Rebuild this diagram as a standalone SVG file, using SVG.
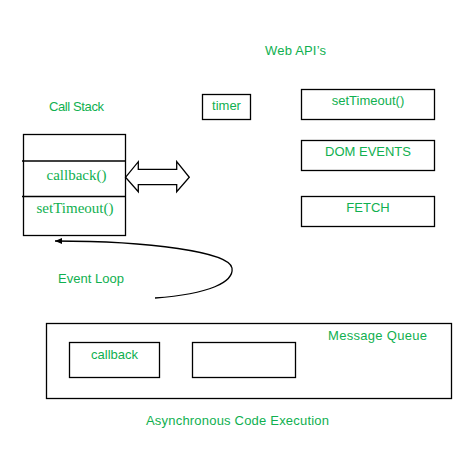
<svg xmlns="http://www.w3.org/2000/svg" width="471" height="449" viewBox="0 0 471 449">
<style>
.box{fill:#fff;stroke:#000;stroke-width:1.3}
.ln{fill:none;stroke:#000;stroke-width:1.3}
.t{font-family:"Liberation Sans",Arial,sans-serif;font-size:13px;fill:#10b050}
.s{font-family:"Liberation Serif","Times New Roman",serif;font-size:15px;fill:#10b050}
.m{text-anchor:middle}
</style>
<defs>
<marker id="ah" markerWidth="8" markerHeight="8" refX="7" refY="4" orient="auto" markerUnits="userSpaceOnUse">
<path d="M0,1 L7,4 L0,7 z" fill="#000"/>
</marker>
</defs>
<rect width="471" height="449" fill="#fff"/>
<text class="t" x="265" y="55" textLength="61">Web API’s</text>
<g id="callstack">
<text class="t" x="49" y="111" textLength="55">Call Stack</text>
<rect class="box" x="23.5" y="134.5" width="102" height="101"/>
<line class="ln" x1="22" y1="161" x2="125.5" y2="161"/>
<line class="ln" x1="22" y1="196.5" x2="125.5" y2="196.5"/>
<text class="s m" x="76.5" y="180">callback()</text>
<text class="s m" x="75" y="213">setTimeout()</text>
</g>
<g id="timer">
<rect class="box" x="202.5" y="94.5" width="48" height="25"/>
<text class="t m" x="226.5" y="110">timer</text>
</g>
<g id="webapi-settimeout">
<rect class="box" x="301.5" y="89.5" width="133" height="30"/>
<text class="t m" x="368" y="105">setTimeout()</text>
</g>
<g id="dom-events">
<rect class="box" x="301.5" y="140.5" width="133" height="30"/>
<text class="t m" x="368" y="156">DOM EVENTS</text>
</g>
<g id="fetch">
<rect class="box" x="301.5" y="196.5" width="133" height="30"/>
<text class="t m" x="368" y="212">FETCH</text>
</g>
<g id="message-queue">
<rect class="box" x="46.5" y="323.5" width="405" height="75"/>
<text class="t" x="328" y="339.5" textLength="99">Message Queue</text>
</g>
<g id="queue-callback">
<rect class="box" x="69.5" y="342.5" width="90" height="35"/>
<text class="t m" x="114.5" y="358.5">callback</text>
</g>
<g id="queue-empty">
<rect class="box" x="192.5" y="342.5" width="103" height="35"/>
</g>
<g id="connectors">
<path class="ln" d="M125.5,177.3 L138.3,161.7 L138.3,169.3 L176.7,169.3 L176.7,161.7 L189.3,177.3 L176.7,191.7 L176.7,184.7 L138.3,184.7 L138.3,191.7 Z" fill="#fff"/>
<path class="ln" d="M155,298 C210,294 234,282 232,268 C229,252 150,241 55,241" marker-end="url(#ah)"/>
</g>
<text class="t" x="58" y="283" textLength="66">Event Loop</text>
<text class="t" x="146" y="425" textLength="183">Asynchronous Code Execution</text>
</svg>
